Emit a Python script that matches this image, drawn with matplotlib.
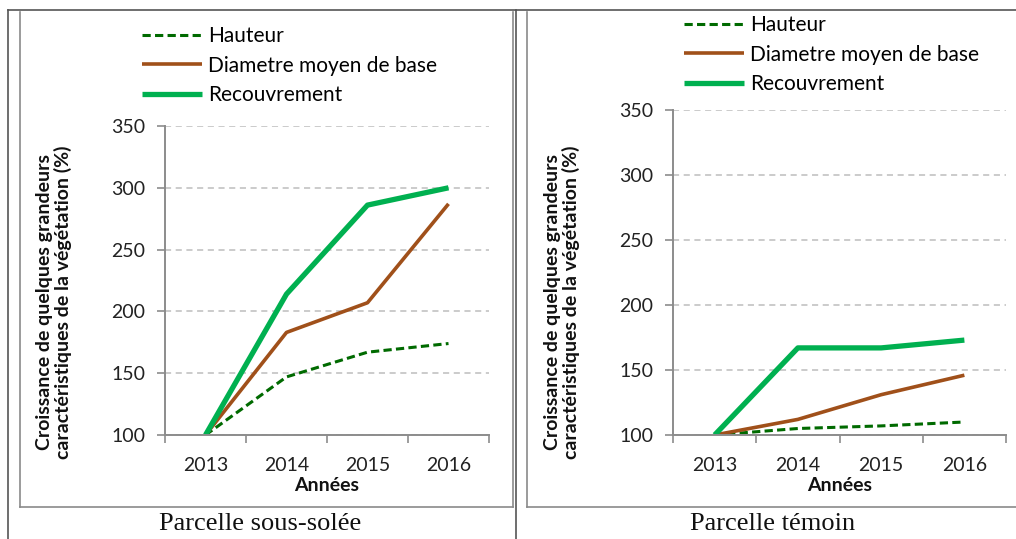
import numpy as np
import matplotlib.pyplot as plt
from matplotlib.lines import Line2D

plt.rcParams['font.family'] = ['Lato', 'DejaVu Sans']

# years on the x axis
years = ['2013', '2014', '2015', '2016']
series_names = ['Hauteur', 'Diametre moyen de base', 'Recouvrement']

# Parcelle sous-solée (%)
hauteur_sous = [100, 147, 167, 174]
diametre_sous = [100, 183, 207, 287]
recouv_sous = [100, 214, 286, 300]

# Parcelle témoin (%)
hauteur_temoin = [100, 105, 107, 110]
diametre_temoin = [100, 112, 131, 146]
recouv_temoin = [100, 167, 167, 173]

y_ticks = [100, 150, 200, 250, 300, 350]
captions = ['Parcelle sous-solée', 'Parcelle témoin']

W, H = 1016, 539
fig = plt.figure(figsize=(W / 100, H / 100), dpi=100)


def fx(px):
    return px / W


def fy(py):
    return 1 - py / H


styles = [
    dict(color='#006A00', lw=2.2, ls=(0, (2.7, 1.4))),
    dict(color='#A0501A', lw=2.6, ls='-'),
    dict(color='#00B050', lw=3.8, ls='-'),
]


def draw_panel(rect, data, legend_xy, ylab_x, cx, caption):
    ax = fig.add_axes(rect)
    x = np.arange(len(years))
    for vals, st, name in zip(data, styles, series_names):
        ax.plot(x, vals, label=name, solid_capstyle='butt', **st)
    ax.set_xlim(-0.5, len(years) - 0.5)
    ax.set_ylim(100, 350)
    ax.set_yticks(y_ticks)
    ax.set_xticks(x)
    ax.set_xticklabels(years)
    ax.set_xticks(np.arange(len(years) + 1) - 0.5, minor=True)
    ax.tick_params(axis='x', which='major', length=0, labelsize=14,
                   pad=16, labelcolor='#222222')
    ax.tick_params(axis='x', which='minor', length=6, color='#8C8C8C', width=1.2)
    ax.tick_params(axis='y', length=6, color='#8C8C8C', width=1.2,
                   labelsize=14, pad=8, labelcolor='#222222')
    for s in ['top', 'right']:
        ax.spines[s].set_visible(False)
    for s in ['left', 'bottom']:
        ax.spines[s].set_color('#8C8C8C')
        ax.spines[s].set_linewidth(1.4)
    ax.grid(axis='y', color='#BDBDBD', ls=(0, (4, 3)), lw=1.1)
    ax.set_axisbelow(True)
    ax.set_xlabel('Années', fontsize=14, fontweight='bold', labelpad=2,
                  color='#111111')
    fig.text(fx(ylab_x), fy(302),
             'Croissance de quelques grandeurs\ncaractéristiques de la végétation (%)',
             rotation=90, ha='center', va='center', fontsize=14,
             fontweight='bold', color='#111111', linespacing=1.0)
    ax.legend(loc='upper left', bbox_to_anchor=(fx(legend_xy[0]), fy(legend_xy[1])),
              bbox_transform=fig.transFigure, frameon=False, fontsize=15,
              handlelength=2.9, handletextpad=0.25, labelspacing=0.46,
              borderpad=0, borderaxespad=0)
    fig.text(fx(cx), fy(524), caption, ha='center', va='center',
             fontsize=19, family='Liberation Serif', color='#111111')
    return ax


draw_panel([fx(165), fy(435), fx(489 - 165), (435 - 126) / H],
           [hauteur_sous, diametre_sous, recouv_sous],
           (142, 26), 54, 260, captions[0])
draw_panel([fx(673), fy(435), fx(1006 - 673), (435 - 110) / H],
           [hauteur_temoin, diametre_temoin, recouv_temoin],
           (684, 15), 562, 773, captions[1])

# table borders and chart frames
def line(x0, y0, x1, y1, c='#555555', lw=1.2):
    fig.add_artist(Line2D([fx(x0), fx(x1)], [fy(y0), fy(y1)], color=c, lw=lw))

line(8, 10, 1016, 10)
line(8, 10, 8, 539)
line(516, 10, 516, 539)
# inner chart boxes
line(20, 12, 20, 507, c='#8A8A8A')
line(20, 507, 513, 507, c='#8A8A8A')
line(513, 12, 513, 507, c='#8A8A8A')
line(527, 12, 527, 507, c='#8A8A8A')
line(527, 507, 1016, 507, c='#8A8A8A')

fig.savefig('out.png', dpi=100)
